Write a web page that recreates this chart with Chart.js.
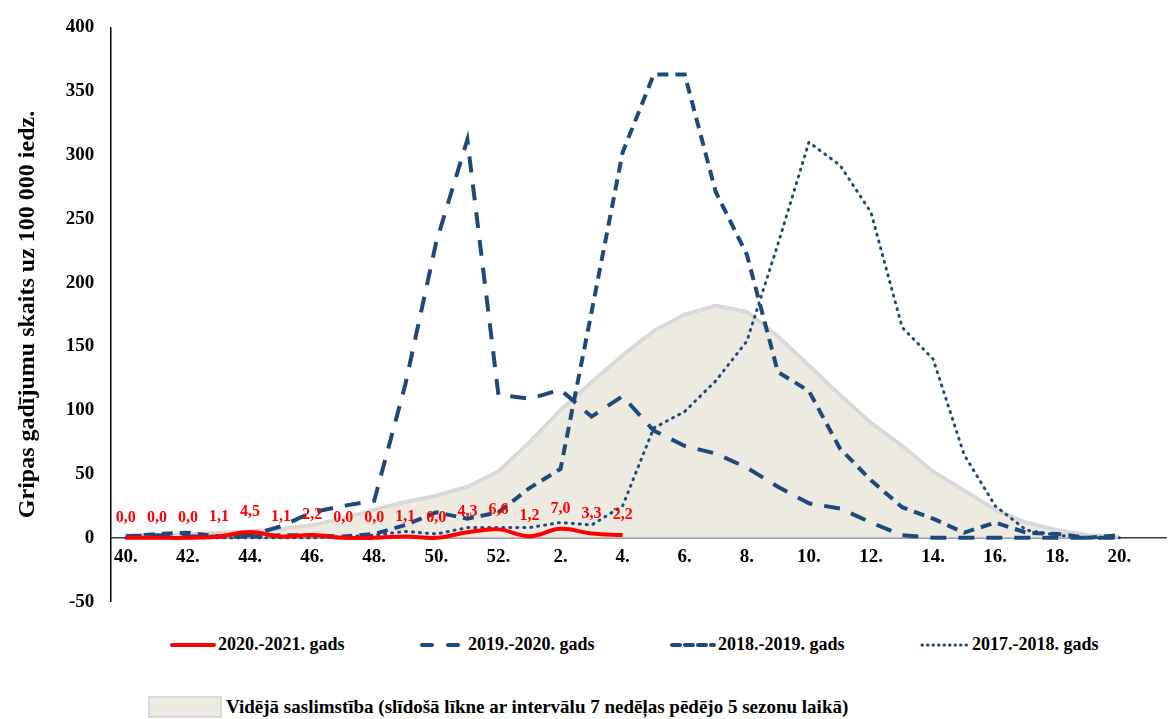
<!DOCTYPE html>
<html>
<head>
<meta charset="utf-8">
<script src="https://cdn.jsdelivr.net/npm/chart.js@4.4.0/dist/chart.umd.min.js"></script>
<style>
  body { margin: 0; background: #fff; font-family: "Liberation Serif", serif; }
  #wrap { position: relative; width: 1168px; height: 719px; }
  #box { position: absolute; left: 0; top: 0; width: 1168px; height: 629px; }
  .leg { position: absolute; font-weight: bold; font-size: 18px; color: #000; display: flex; align-items: center; white-space: nowrap; }
  .leg svg { margin-right: 2px; }
</style>
</head>
<body>
<div id="wrap">
  <div id="box"><canvas id="chart"></canvas></div>
  <div class="leg" style="left:170px; top:634px;"><svg width="46" height="8"><line x1="2" y1="4" x2="44" y2="4" stroke="#FF0000" stroke-width="4" stroke-linecap="round"/></svg>2020.-2021. gads</div>
  <div class="leg" style="left:418px; top:634px;"><svg width="48" height="8"><line x1="4" y1="4" x2="46" y2="4" stroke="#1F497D" stroke-width="4" stroke-dasharray="10,16" stroke-linecap="round"/></svg>2019.-2020. gads</div>
  <div class="leg" style="left:668px; top:634px;"><svg width="48" height="8"><line x1="4" y1="4" x2="46" y2="4" stroke="#1F497D" stroke-width="4" stroke-dasharray="8,5" stroke-linecap="round"/></svg>2018.-2019. gads</div>
  <div class="leg" style="left:918px; top:634px;"><svg width="52" height="8"><line x1="4" y1="4" x2="50" y2="4" stroke="#1F497D" stroke-width="3" stroke-dasharray="0.5,5" stroke-linecap="round"/></svg>2017.-2018. gads</div>
  <div class="leg" style="left:148px; top:696px; font-size:19px;"><svg width="76" height="22"><rect x="1" y="1" width="72" height="20" fill="#EDEBE1" stroke="#D9D9D9" stroke-width="2"/></svg>Vidējā saslimstība (slīdošā līkne ar intervālu 7 nedēļas pēdējo 5 sezonu laikā)</div>
</div>
<script>
// nedēļas
const weeks = ['40.','41.','42.','43.','44.','45.','46.','47.','48.','49.','50.','51.','52.',
  '1.','2.','3.','4.','5.','6.','7.','8.','9.','10.','11.','12.','13.','14.','15.','16.','17.','18.','19.','20.','21.'];

const season2021 = [0, 0, 0, 1.1, 4.5, 1.1, 2.2, 0, 0, 1.1, 0, 4.3, 6.6, 1.2, 7.0, 3.3, 2.2];
const season1920 = [1, 2, 1, 1, 2, 9, 20, 25, 29, 120, 232, 312, 112, 109, 116, 95, 111, 84, 72, 66, 55, 40, 27, 23, 12, 2, 0, 0, 0, 0, 0, 0, 0];
const season1819 = [1, 3, 4, 1, 1, 2, 2, 1, 3, 10, 20, 15, 20, 39, 54, 177, 302, 363, 363, 271, 222, 130, 115, 70, 45, 24, 15, 4, 12, 4, 3, 0, 2];
const season1718 = [0, 0, 0, 0, 0, 0, 0, 1, 2, 5, 3, 8, 8, 8, 12, 10, 25, 86, 99, 123, 154, 230, 310, 292, 255, 165, 140, 65, 25, 6, 2, 0, 0];
const average = [2, 2, 3, 4, 5, 7, 10, 15, 22, 28, 33, 40, 52, 75, 100, 122, 143, 162, 175, 182, 177, 158, 135, 112, 90, 72, 52, 37, 22, 12, 6, 2, 1];
const yTicks = [-50, 0, 50, 100, 150, 200, 250, 300, 350, 400];

const navy = '#1F497D';

const redLabels = {
  id: 'redLabels',
  afterDatasetsDraw(chart) {
    const ctx = chart.ctx;
    const meta = chart.getDatasetMeta(0);
    ctx.save();
    ctx.font = 'bold 16px "Liberation Serif"';
    ctx.fillStyle = '#FF0000';
    ctx.textAlign = 'center';
    ctx.textBaseline = 'middle';
    meta.data.forEach((pt, i) => {
      ctx.fillText(season2021[i].toFixed(1).replace('.', ','), pt.x, pt.y - 20);
    });
    ctx.restore();
  }
};

new Chart(document.getElementById('chart'), {
  type: 'line',
  data: {
    labels: weeks,
    datasets: [
      { label: '2020.-2021. gads', data: season2021, borderColor: '#FF0000', borderWidth: 4, tension: 0.4, pointRadius: 0, order: 0 },
      { label: '2019.-2020. gads', data: season1920, borderColor: navy, borderWidth: 4, borderDash: [16, 12], pointRadius: 0, order: 1 },
      { label: '2018.-2019. gads', data: season1819, borderColor: navy, borderWidth: 4, borderDash: [11, 7], pointRadius: 0, order: 2 },
      { label: '2017.-2018. gads', data: season1718, borderColor: navy, borderWidth: 3, borderDash: [1, 6], borderCapStyle: 'round', pointRadius: 0, order: 3 },
      { label: 'Vidējā saslimstība', data: average, borderColor: '#D9D9D9', borderWidth: 4, backgroundColor: '#EDEBE1', fill: 'origin', pointRadius: 0, order: 4 }
    ]
  },
  options: {
    responsive: true,
    maintainAspectRatio: false,
    animation: false,
    layout: { padding: { left: 9, right: 2, top: 14, bottom: 0 } },
    plugins: { legend: { display: false }, tooltip: { enabled: false } },
    scales: {
      x: {
        position: { y: 0 },
        offset: true,
        grid: { display: false, drawTicks: false },
        border: { color: '#404040', width: 1.5 },
        ticks: {
          color: '#000', font: { family: 'Liberation Serif', size: 19, weight: 'bold' },
          autoSkip: false, maxRotation: 0, padding: 8,
          callback: (v, i) => (i % 2 === 0 ? weeks[i] : '')
        }
      },
      y: {
        min: -50, max: 400,
        afterBuildTicks: axis => { axis.ticks = yTicks.map(v => ({ value: v })); },
        grid: { display: false, drawTicks: false },
        border: { color: '#000', width: 1.5 },
        ticks: { color: '#000', font: { family: 'Liberation Serif', size: 19, weight: 'bold' }, padding: 16 },
        title: { display: true, text: 'Gripas gadījumu skaits uz 100 000 iedz.', color: '#000', font: { family: 'Liberation Serif', size: 24, weight: 'bold' }, padding: { bottom: 8 } }
      }
    }
  },
  plugins: [redLabels]
});
</script>
</body>
</html>
